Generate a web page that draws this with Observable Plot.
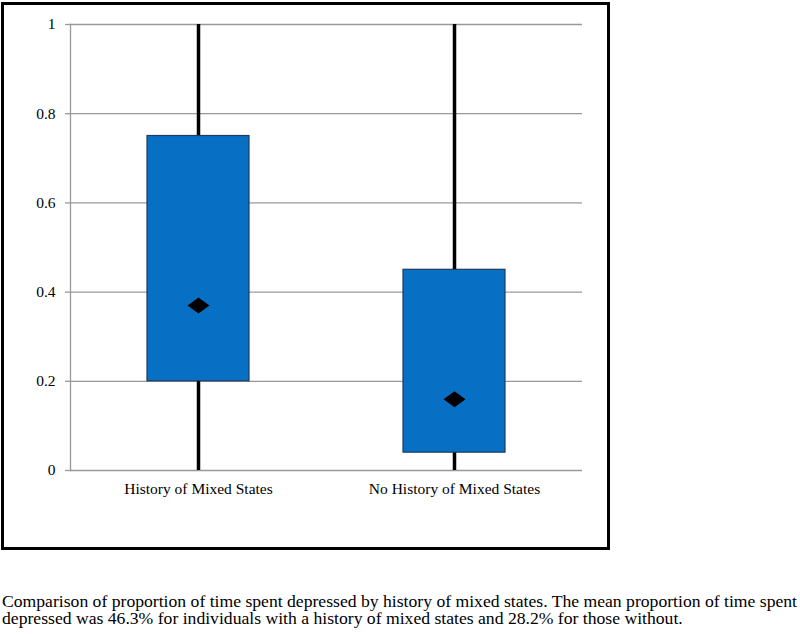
<!DOCTYPE html>
<html>
<head>
<meta charset="utf-8">
<script src="https://cdn.jsdelivr.net/npm/d3@7"></script>
<script src="https://cdn.jsdelivr.net/npm/@observablehq/plot@0.6"></script>
<style>
  html, body { margin: 0; padding: 0; background: #fff; }
  body { position: relative; width: 800px; height: 634px; overflow: hidden; }
  #chart { position: absolute; left: 0; top: 0; }
  #frame { position: absolute; left: 1px; top: 2px; width: 609px; height: 548px; box-sizing: border-box; border: 3px solid #000; pointer-events: none; }
  .cap { position: absolute; left: 2px; font-family: "Liberation Serif", "Times New Roman", serif; font-size: 16px; line-height: 16px; white-space: nowrap; color: #000; transform-origin: 0 0; display: inline-block; }
  #cap1 { top: 593.5px; }
  #cap2 { top: 610.5px; }
</style>
</head>
<body>
<div id="chart"></div>
<div id="frame"></div>
<div id="cap1" class="cap">Comparison of proportion of time spent depressed by history of mixed states. The mean proportion of time spent</div>
<div id="cap2" class="cap">depressed was 46.3% for individuals with a history of mixed states and 28.2% for those without.</div>
<script>
const categories = ["History of Mixed States", "No History of Mixed States"];
const lowValues = [0, 0];
const q1Values = [0.2, 0.04];
const q3Values = [0.75, 0.45];
const highValues = [1, 1];
const centerValues = [0.37, 0.16];
const yTicks = [0, 0.2, 0.4, 0.6, 0.8, 1];
const yTickLabels = ["0", "0.2", "0.4", "0.6", "0.8", "1"];

const rows = categories.map((c, i) => ({
  cat: c, low: lowValues[i], q1: q1Values[i], q3: q3Values[i], high: highValues[i], center: centerValues[i]
}));

const diamond = {
  draw(ctx, size) {
    const w = 11, h = 8;
    ctx.moveTo(-w, 0); ctx.lineTo(0, -h); ctx.lineTo(w, 0); ctx.lineTo(0, h); ctx.closePath();
  }
};

const serif = '"Liberation Serif", "Times New Roman", serif';

const chart = Plot.plot({
  width: 612,
  height: 552,
  marginLeft: 70,
  marginRight: 30,
  marginTop: 24,
  marginBottom: 82,
  style: { fontFamily: serif, fontSize: "15.5px", color: "#000", background: "transparent" },
  x: { domain: categories, padding: 0 },
  y: { domain: [0, 1] },
  marks: [
    Plot.gridY(yTicks, { stroke: "#999", strokeOpacity: 1, strokeWidth: 1.3 }),
    Plot.axisY(yTicks, { tickSize: 5, tickPadding: 10, stroke: "#999", strokeWidth: 1.3, fill: "#000", fontSize: 15.5, tickFormat: (d) => yTickLabels[yTicks.indexOf(d)], label: null }),
    Plot.frame({ anchor: "left", stroke: "#999", strokeWidth: 1.3 }),
    Plot.axisX({ tickSize: 0, tickPadding: 12, fill: "#000", fontSize: 15.5, label: null }),
    Plot.ruleX(rows, { x: "cat", y1: "low", y2: "high", stroke: "#000", strokeWidth: 3.5 }),
    Plot.barY(rows, { x: "cat", y1: "q1", y2: "q3", fill: "#0870C4", stroke: "#1F3A5F", strokeWidth: 1.2, insetLeft: 77, insetRight: 77 }),
    Plot.dot(rows, { x: "cat", y: "center", symbol: diamond, r: 10, fill: "#000", stroke: "none" })
  ]
});
document.getElementById("chart").appendChild(chart);

const cap1 = document.getElementById("cap1");
const cap2 = document.getElementById("cap2");
const w1 = cap1.getBoundingClientRect().width;
if (w1 > 0) {
  const k = 795 / w1;
  cap1.style.transform = `scaleX(${k})`;
  cap2.style.transform = `scaleX(${k})`;
}
</script>
</body>
</html>
